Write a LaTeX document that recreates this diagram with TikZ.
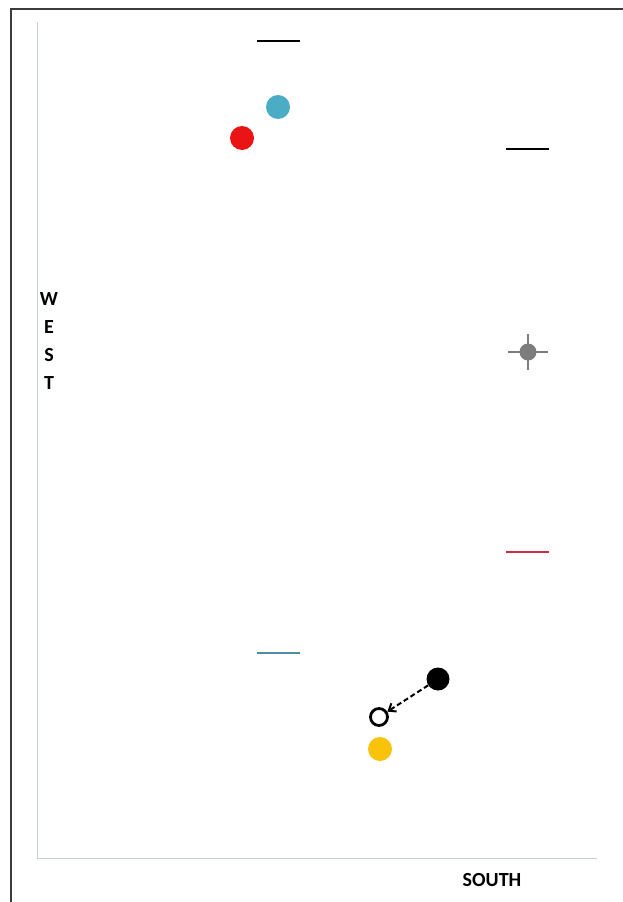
\documentclass[tikz,border=0pt]{standalone}
\usepackage{fontspec}
\setmainfont{Carlito}
\usetikzlibrary{arrows.meta}

\definecolor{frameGray}{RGB}{60,60,60}
\definecolor{axisGray}{RGB}{200,208,215}
\definecolor{dotBlue}{RGB}{75,172,198}
\definecolor{dotRed}{RGB}{235,20,20}
\definecolor{dotYellow}{RGB}{250,195,10}
\definecolor{barRed}{RGB}{205,45,60}
\definecolor{barBlue}{RGB}{80,140,160}
\definecolor{starGray}{RGB}{125,125,125}

\begin{document}
\begin{tikzpicture}[
    x=1pt, y=-1pt,
    dot/.style={circle, inner sep=0pt, minimum size=24pt},
    bar/.style={draw=none, inner sep=0pt, minimum width=43pt, minimum height=2.4pt},
    lbl/.style={font=\bfseries\fontsize{20}{20}\selectfont, inner sep=0pt},
    arr/.style={-{Straight Barb[length=2.2mm,width=3.4mm]}, dash pattern=on 5pt off 3pt, line width=2pt}
  ]
  \useasboundingbox (0,0) rectangle (623,902);
  % frame and axes
  \draw[frameGray, line width=2.8pt] (11,902) -- (11,9) -- (623,9);
  \draw[axisGray, line width=1pt] (37,22) -- (37,858) -- (597,858);
  \node[lbl] (south) at (492,880) {SOUTH};
  \node[lbl] (w) at (49,299) {W};
  \node[lbl] (e) at (49,327) {E};
  \node[lbl] (s) at (49,355) {S};
  \node[lbl] (t) at (49,383) {T};

  % bars
  \node[bar, fill=black] (topbar) at (278,41) {};
  \node[bar, fill=black] (rightbar) at (527,149) {};
  \node[bar, fill=barRed] (redbar) at (527,552) {};
  \node[bar, fill=barBlue] (bluebar) at (278,653) {};

  % dots
  \node[dot, fill=dotBlue] (blue) at (278,107) {};
  \node[dot, fill=dotRed] (red) at (242,138) {};
  \node[dot, fill=dotYellow] (yellow) at (380,749) {};
  \node[dot, fill=black, minimum size=23pt] (black) at (438,679) {};
  \node[dot, draw=black, line width=2.8pt, minimum size=17pt] (open) at (379,717) {};

  % gray star
  \node[dot, fill=starGray, minimum size=17pt] (star) at (528,352) {};
  \draw[starGray, line width=1.6pt] (508,352) -- (548,352);
  \draw[starGray, line width=1.6pt] (528,334) -- (528,370);

  \draw[arr] (black) -- (open);
\end{tikzpicture}
\end{document}
